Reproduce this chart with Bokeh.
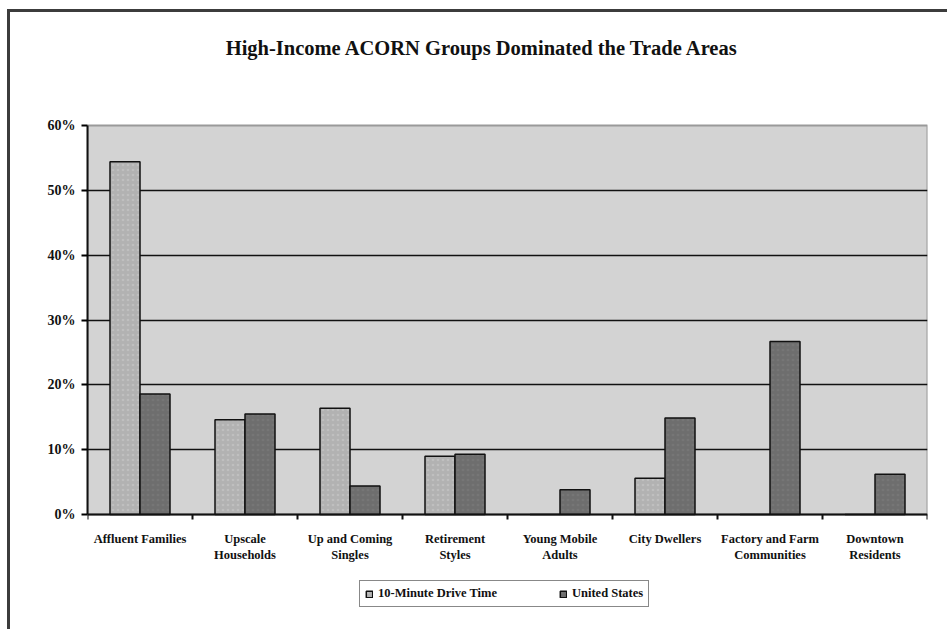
from bokeh.plotting import figure
from bokeh.models import (Range1d, FixedTicker, PrintfTickFormatter, Legend, LegendItem,
                          ColumnDataSource, Label)
from bokeh.embed import file_html
from bokeh.resources import INLINE

categories = ["Affluent Families", "Upscale\nHouseholds", "Up and Coming\nSingles",
              "Retirement\nStyles", "Young Mobile\nAdults", "City Dwellers",
              "Factory and Farm\nCommunities", "Downtown\nResidents"]
drive_time = [54.4, 14.6, 16.4, 9.0, 0.0, 5.6, 0.0, 0.0]
united_states = [18.6, 15.5, 4.4, 9.3, 3.8, 14.9, 26.7, 6.2]
y_ticks = [0, 10, 20, 30, 40, 50, 60]
series_names = ["10-Minute Drive Time", "United States"]
title_text = "High-Income ACORN Groups Dominated the Trade Areas"

FONT = "Liberation Serif"
n = len(categories)
bw = 1 / 3.5
centers = [i + 0.5 for i in range(n)]
y_lo, y_hi = y_ticks[0], y_ticks[-1]

src = ColumnDataSource(dict(
    x1=[c - bw / 2 for c in centers],
    x2=[c + bw / 2 for c in centers],
    d=drive_time, u=united_states))

# frame covers the full canvas height; value area is drawn as a background quad
p = figure(width=940, height=620, output_backend="svg", toolbar_location=None,
           x_range=Range1d(0, n), y_range=Range1d(-18.2, 77.43),
           min_border_left=77, min_border_right=23, min_border_top=0, min_border_bottom=0)
p.margin = (9, 0, 0, 7)
p.styles = {"border-top": "3px solid #3c3c3c", "border-left": "3px solid #3c3c3c"}

p.background_fill_color = "white"
p.border_fill_color = "white"
p.outline_line_color = None

# plot-area background
p.quad(left=[0], right=[n], bottom=[y_lo], top=[y_hi], fill_color="#d3d3d3",
       line_color="#9a9a9a", line_width=2, level="image")

r1 = p.vbar(x="x1", top="d", width=bw, source=src, fill_color="#b2b2b2",
            line_color="#111111", line_width=1.5,
            hatch_pattern="dot", hatch_color="#c6c6c6", hatch_scale=5, hatch_alpha=0.6)
r2 = p.vbar(x="x2", top="u", width=bw, source=src, fill_color="#6e6e6e",
            line_color="#111111", line_width=1.5,
            hatch_pattern="dot", hatch_color="#7c7c7c", hatch_scale=5, hatch_alpha=0.6)

# title
title = Label(x=n / 2, y=585, x_units="data", y_units="screen", x_offset=-25,
              text=title_text, text_align="center", text_baseline="middle",
              text_font="Liberation Serif", text_font_size="20.5px",
              text_font_style="bold", text_color="#111111")
p.add_layout(title)

# grid
p.xgrid.visible = False
p.ygrid.ticker = FixedTicker(ticks=y_ticks[1:-1])
p.ygrid.grid_line_color = "#111111"
p.ygrid.grid_line_width = 1.5
p.ygrid.level = "underlay"

# y axis
ya = p.yaxis[0]
ya.ticker = FixedTicker(ticks=y_ticks)
ya.bounds = (y_lo, y_hi)
ya.formatter = PrintfTickFormatter(format="%d%%")
ya.axis_line_color = "#111111"
ya.axis_line_width = 2
ya.major_tick_out = 6
ya.major_tick_in = 0
ya.major_tick_line_width = 2
ya.minor_tick_line_color = None
ya.major_label_text_font = FONT
ya.major_label_text_font_size = "14px"
ya.major_label_text_font_style = "bold"
ya.major_label_text_color = "#111111"
ya.major_label_standoff = 6

# x axis (fixed at 0%)
xa = p.xaxis[0]
xa.fixed_location = y_lo
xa.ticker = FixedTicker(ticks=centers, minor_ticks=list(range(n + 1)))
xa.major_label_overrides = {c: lab for c, lab in zip(centers, categories)}
xa.axis_line_color = "#111111"
xa.axis_line_width = 2
xa.major_tick_out = 0
xa.major_tick_in = 0
xa.minor_tick_out = 5
xa.minor_tick_in = 0
xa.minor_tick_line_width = 2
xa.minor_tick_line_color = "#111111"
xa.major_label_text_font = FONT
xa.major_label_text_font_size = "12.5px"
xa.major_label_text_font_style = "bold"
xa.major_label_text_color = "#111111"
xa.major_label_standoff = 12

legend = Legend(items=[LegendItem(label=series_names[0], renderers=[r1]),
                       LegendItem(label=series_names[1], renderers=[r2])],
                location=(272, 25), orientation="horizontal")
legend.border_line_color = "#111111"
legend.border_line_width = 1.5
legend.background_fill_color = "white"
legend.background_fill_alpha = 1
legend.label_text_font = FONT
legend.label_text_font_size = "12.5px"
legend.label_text_font_style = "bold"
legend.label_text_color = "#111111"
legend.glyph_width = 8
legend.glyph_height = 8
legend.label_standoff = 5
legend.spacing = 62
legend.padding = 5
legend.margin = 0
legend.label_height = 12
p.add_layout(legend, "center")

open("out.html", "w").write(file_html(p, INLINE))
